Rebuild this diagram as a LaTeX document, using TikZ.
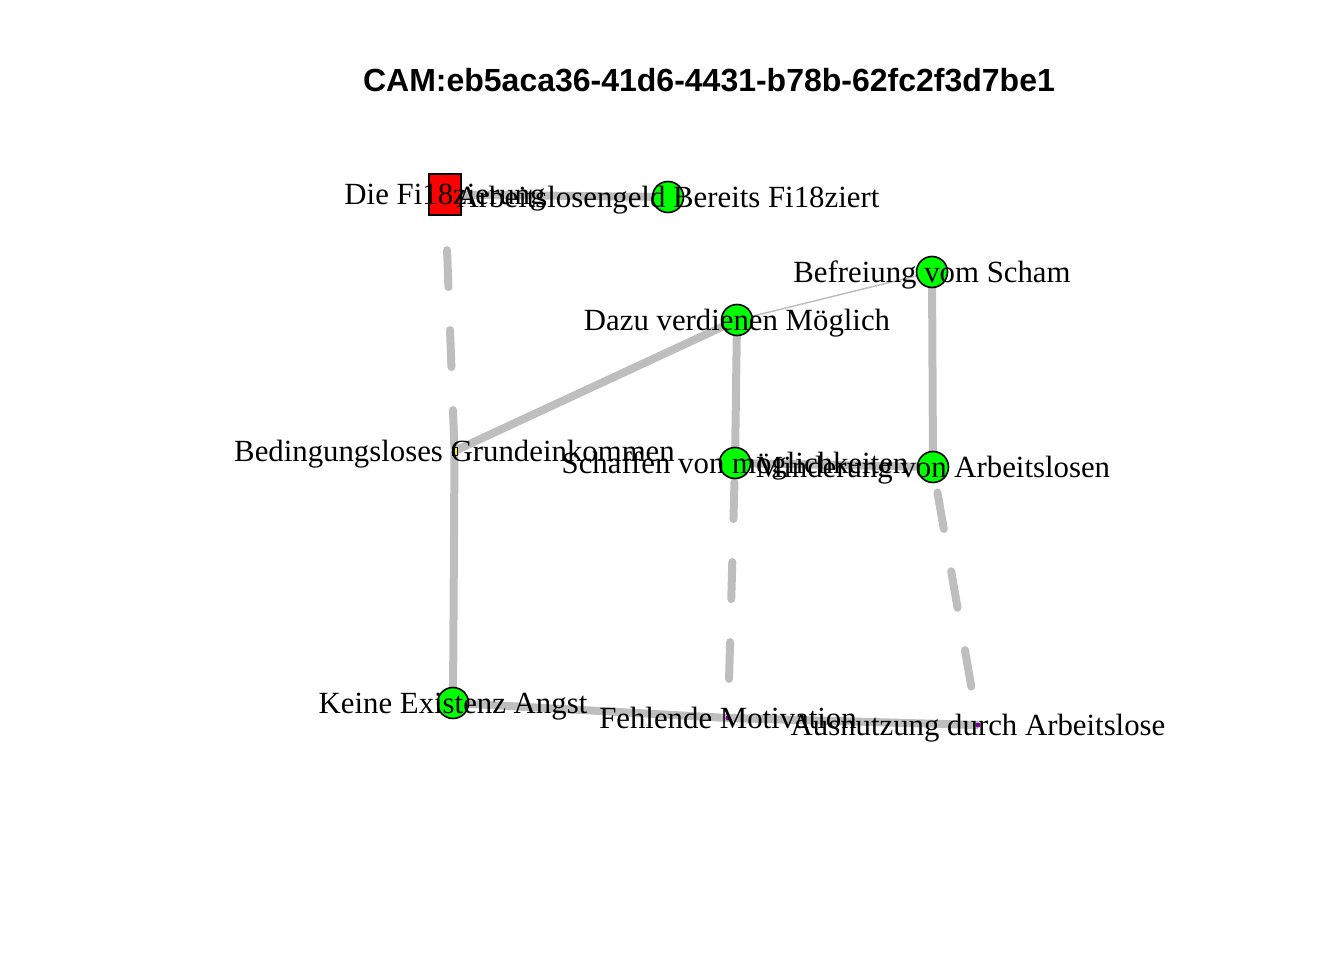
\documentclass[tikz,border=0pt]{standalone}
\usepackage{fontspec}
\setmainfont{Liberation Serif}
\newfontfamily\titlefont{Liberation Sans}
\begin{document}
\begin{tikzpicture}[x=1pt,y=-1pt,
  edgecol/.style={line width=8pt,color=edgegray},
  thinedge/.style={line width=1.5pt,color=edgegray},
  dashedge/.style={line width=8pt,color=edgegray,line cap=round,dash pattern=on 37pt off 43pt},
  gvert/.style={circle,draw=black,line width=1.6pt,fill=vgreen,minimum size=31pt,inner sep=0pt},
  rvert/.style={rectangle,draw=black,line width=1.6pt,fill=red,minimum width=32pt,minimum height=41pt,inner sep=0pt},
  yvert/.style={rectangle,draw=black,line width=1pt,fill=yellow,minimum width=5pt,minimum height=8pt,inner sep=0pt},
  pvert/.style={circle,fill=vpurple,minimum size=5pt,inner sep=0pt},
  lab/.style={anchor=base,inner sep=0pt,font=\fontsize{30.8}{34}\selectfont}
]
\definecolor{edgegray}{RGB}{190,190,190}
\definecolor{vgreen}{RGB}{0,255,0}
\definecolor{vpurple}{RGB}{128,0,160}
\useasboundingbox (0,0) rectangle (1344,960);
% title
\node[anchor=base,inner sep=0pt,font=\titlefont\bfseries\fontsize{32}{36}\selectfont] (title) at (709,92) {CAM:eb5aca36-41d6-4431-b78b-62fc2f3d7be1};
% vertex coordinates
\coordinate (fi) at (445,194.5);
\coordinate (al) at (668,197);
\coordinate (be) at (932,272);
\coordinate (da) at (737,320);
\coordinate (bg) at (454.5,451);
\coordinate (sc) at (735,463);
\coordinate (mi) at (933,467);
\coordinate (ke) at (453,703);
\coordinate (fe) at (728,718);
\coordinate (au) at (978,725);
% edges
\draw[edgecol] (fi) -- (al);
\draw[dashedge,dash phase=-4pt] (bg) -- (fi);
\draw[edgecol] (bg) -- (da);
\draw[edgecol] (bg) -- (ke);
\draw[thinedge] (da) -- (be);
\draw[edgecol] (da) -- (sc);
\draw[edgecol] (be) -- (mi);
\draw[edgecol] (sc) -- (mi);
\draw[dashedge,dash phase=41pt] (fe) -- (sc);
\draw[dashedge,dash phase=41pt] (au) -- (mi);
\draw[edgecol] (ke) -- (fe);
\draw[edgecol] (fe) -- (au);
% vertices
\node[rvert] (vfi) at (fi) {};
\node[gvert] (val) at (al) {};
\node[gvert] (vbe) at (be) {};
\node[gvert] (vda) at (da) {};
\node[yvert] (vbg) at (bg) {};
\node[gvert] (vsc) at (sc) {};
\node[gvert] (vmi) at (mi) {};
\node[gvert] (vke) at (ke) {};
\node[pvert] (vfe) at (fe) {};
\node[pvert] (vau) at (au) {};
% labels
\node[lab] (lfi) at ([yshift=-10.5pt]fi) {Die Fi18zierung};
\node[lab] (lal) at ([yshift=-10.5pt]al) {Arbeitslosengeld Bereits Fi18ziert};
\node[lab] (lbe) at ([yshift=-10.5pt]be) {Befreiung vom Scham};
\node[lab] (lda) at ([yshift=-10.5pt]da) {Dazu verdienen Möglich};
\node[lab] (lbg) at ([yshift=-10.5pt]bg) {Bedingungsloses Grundeinkommen};
\node[lab] (lsc) at ([yshift=-10.5pt]sc) {Schaffen von möglichkeiten};
\node[lab] (lmi) at ([yshift=-10.5pt]mi) {Minderung von Arbeitslosen};
\node[lab] (lke) at ([yshift=-10.5pt]ke) {Keine Existenz Angst};
\node[lab] (lfe) at ([yshift=-10.5pt]fe) {Fehlende Motivation};
\node[lab] (lau) at ([yshift=-10.5pt]au) {Ausnutzung durch Arbeitslose};
\end{tikzpicture}
\end{document}
